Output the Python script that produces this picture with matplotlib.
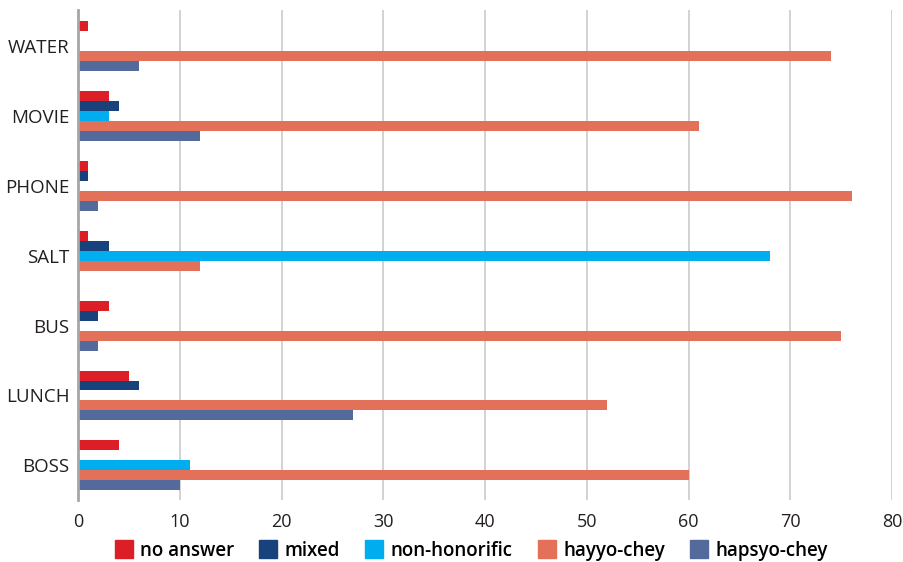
import matplotlib; matplotlib.use("Agg")
import matplotlib.pyplot as plt
from matplotlib.lines import Line2D
import numpy as np

plt.rcParams['font.family'] = ['Open Sans', 'DejaVu Sans']

categories = ["WATER", "MOVIE", "PHONE", "SALT", "BUS", "LUNCH", "BOSS"]
series = ["no answer", "mixed", "non-honorific", "hayyo-chey", "hapsyo-chey"]
no_answer = [1, 3, 1, 1, 3, 5, 4]
mixed = [0, 4, 1, 3, 2, 6, 0]
non_honorific = [0, 3, 0, 68, 0, 0, 11]
hayyo_chey = [74, 61, 76, 12, 75, 52, 60]
hapsyo_chey = [6, 12, 2, 0, 2, 27, 10]
colors = ["#dc1f26", "#17427c", "#00aeef", "#e37058", "#546a9c"]

fig = plt.figure(figsize=(9.04, 5.62), dpi=100)
ax = fig.add_axes([0.0863, 0.110, 0.9007, 0.872])

y = np.arange(len(categories))
h = 10 / 70
vals = [no_answer, mixed, non_honorific, hayyo_chey, hapsyo_chey]
for i, (v, c) in enumerate(zip(vals, colors)):
    ax.barh(y + (i - 2) * h, v, height=h, color=c, zorder=3)

ax.set_xlim(0, 80)
ax.set_ylim(6.5, -0.52)
ax.set_xticks(range(0, 81, 10))
ax.set_yticks(y)
ax.set_yticklabels(categories)
ax.tick_params(length=0, labelsize=13, colors="#231f20")
ax.tick_params(axis="y", labelsize=13.5, pad=6)
ax.tick_params(axis="x", pad=9)
ax.grid(axis="x", color="#cfcfcf", lw=1.3, zorder=0)
for s in ["top", "right", "bottom"]:
    ax.spines[s].set_visible(False)
ax.spines["left"].set_color("#a6a6a6")
ax.spines["left"].set_linewidth(2)
ax.spines["left"].set_zorder(4)

handles = [Line2D([], [], ls="none", marker="s", markersize=12.5, color=c) for c in colors]
fig.legend(handles, series, loc="center", bbox_to_anchor=(471 / 904, 1 - 551 / 562), ncol=5,
           frameon=False, handletextpad=0.35, columnspacing=1.35, handlelength=1.0,
           prop={"size": 13.5, "weight": "semibold"})

fig.savefig("out.png", dpi=100)
